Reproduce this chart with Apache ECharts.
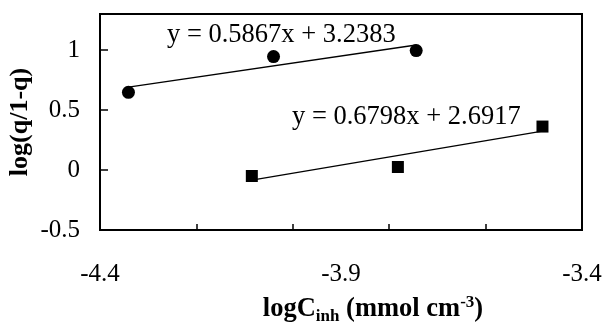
<!DOCTYPE html>
<html>
<head>
<meta charset="utf-8">
<script src="https://cdn.jsdelivr.net/npm/echarts@6/dist/echarts.min.js"></script>
<style>
  html, body { margin: 0; padding: 0; background: #fff; }
  #chart { width: 603px; height: 322px; }
</style>
</head>
<body>
<div id="chart"></div>
<script>
// series 1 (circles)
var circleX = [-4.341, -4.040, -3.744];
var circleY = [0.647, 0.945, 0.995];
// series 2 (squares)
var squareX = [-4.085, -3.782, -3.482];
var squareY = [-0.05, 0.025, 0.362];
// trendline coefficients as printed on the chart
var slopes = [0.5867, 0.6798];
var intercepts = [3.2383, 2.6917];
var equations = ['y = 0.5867x + 3.2383', 'y = 0.6798x + 2.6917'];
// axis ticks / labels
var xLabels = [-4.4, -3.9, -3.4];
var xTicks = [-4.2, -4.0, -3.8, -3.6];
var yLabels = [-0.5, 0, 0.5, 1];

function pairs(xs, ys) {
  return xs.map(function (x, i) { return [x, ys[i]]; });
}
function trend(xs, k) {
  var lo = Math.min.apply(null, xs), hi = Math.max.apply(null, xs);
  return [[lo, slopes[k] * lo + intercepts[k]], [hi, slopes[k] * hi + intercepts[k]]];
}

var font = '"Liberation Serif", "Times New Roman", serif';
var chart = echarts.init(document.getElementById('chart'));

chart.setOption({
  animation: false,
  grid: {
    left: 100, right: 21, top: 14, bottom: 92,
    containLabel: false, outerBoundsMode: 'none',
    show: true, borderColor: '#000', borderWidth: 2, backgroundColor: 'transparent'
  },
  xAxis: {
    type: 'value',
    min: -4.4, max: -3.4,
    splitLine: { show: false },
    axisLine: { onZero: false, lineStyle: { color: '#000', width: 2 } },
    axisTick: { inside: true, length: 6, customValues: xTicks, lineStyle: { color: '#000', width: 1.5 } },
    axisLabel: {
      customValues: xLabels, margin: 32, color: '#000',
      fontFamily: font, fontSize: 25,
      formatter: function (v) { return String(Math.round(v * 10) / 10); }
    },
    name: '{b|logC}{sub|inh}{b| (mmol cm}{sup|-3}{b|)}',
    nameLocation: 'middle',
    nameMoveOverlap: false,
    nameGap: 64,
    nameTextStyle: {
      padding: [0, 0, 0, 64],
      rich: {
        b: { fontFamily: font, fontWeight: 'bold', fontSize: 26.5, color: '#000' },
        sub: { fontFamily: font, fontWeight: 'bold', fontSize: 17, color: '#000', verticalAlign: 'bottom', padding: [8, 0, 0, 0] },
        sup: { fontFamily: font, fontWeight: 'bold', fontSize: 17, color: '#000', verticalAlign: 'top', padding: [0, 0, 14, 0] }
      }
    }
  },
  yAxis: {
    type: 'value',
    min: -0.5, max: 1.3,
    splitLine: { show: false },
    axisLine: { onZero: false, lineStyle: { color: '#000', width: 2 } },
    axisTick: { inside: true, length: 8, customValues: yLabels, lineStyle: { color: '#000', width: 1.5 } },
    axisLabel: {
      customValues: yLabels, margin: 20, color: '#000',
      fontFamily: font, fontSize: 25
    },
    name: 'log(q/1-q)',
    nameLocation: 'middle',
    nameMoveOverlap: false,
    nameGap: 67,
    nameTextStyle: { fontFamily: font, fontWeight: 'bold', fontSize: 26, color: '#000' }
  },
  graphic: [
    { type: 'text', left: 167, top: 22, style: { text: equations[0], font: '26.5px ' + font, fill: '#000' } },
    { type: 'text', left: 292, top: 104, style: { text: equations[1], font: '26.5px ' + font, fill: '#000' } }
  ],
  series: [
    {
      type: 'line', data: trend(circleX, 0), symbol: 'none',
      lineStyle: { color: '#000', width: 1.3 }
    },
    {
      type: 'line', data: trend(squareX, 1), symbol: 'none',
      lineStyle: { color: '#000', width: 1.3 }
    },
    {
      type: 'scatter', data: pairs(circleX, circleY),
      symbol: 'circle', symbolSize: 13, itemStyle: { color: '#000', opacity: 1 }
    },
    {
      type: 'scatter', data: pairs(squareX, squareY),
      symbol: 'rect', symbolSize: 12, itemStyle: { color: '#000', opacity: 1 }
    }
  ]
});
</script>
</body>
</html>
